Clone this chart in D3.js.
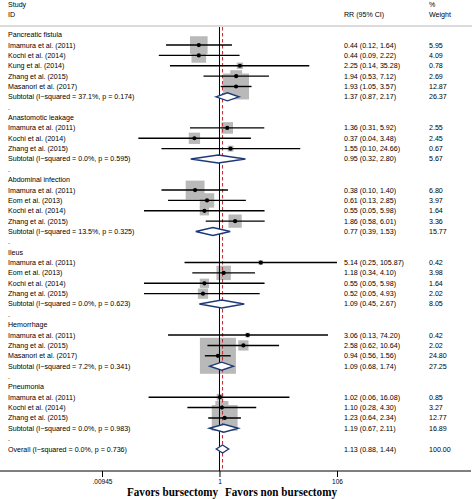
<!DOCTYPE html>
<html>
<head>
<meta charset="utf-8">
<script src="https://cdn.jsdelivr.net/npm/d3@7"></script>
<style>
html,body{margin:0;padding:0;background:#fff;}
svg{display:block;}
</style>
</head>
<body>
<div id="chart"></div>
<script>
// ---------------- data ----------------
const groups = ["Pancreatic fistula", "Anastomotic leakage", "Abdominal infection", "Ileus", "Hemorrhage", "Pneumonia"];
const studyGroup = [0,0,0,0,0, 1,1,1, 2,2,2,2, 3,3,3,3, 4,4,4, 5,5,5];
const studyNames = [
  "Imamura et al. (2011)", "Kochi et al. (2014)", "Kung et al. (2014)", "Zhang et al. (2015)", "Masanori et al. (2017)",
  "Imamura et al. (2011)", "Kochi et al. (2014)", "Zhang et al. (2015)",
  "Imamura et al. (2011)", "Eom et al. (2013)", "Kochi et al. (2014)", "Zhang et al. (2015)",
  "Imamura et al. (2011)", "Eom et al. (2013)", "Kochi et al. (2014)", "Zhang et al. (2015)",
  "Imamura et al. (2011)", "Zhang et al. (2015)", "Masanori et al. (2017)",
  "Imamura et al. (2011)", "Kochi et al. (2014)", "Zhang et al. (2015)"
];
const studyRR = [0.44,0.44,2.25,1.94,1.93, 1.36,0.37,1.55, 0.38,0.61,0.55,1.86, 5.14,1.18,0.55,0.52, 3.06,2.58,0.94, 1.02,1.10,1.23];
const studyLo = [0.12,0.09,0.14,0.53,1.05, 0.31,0.04,0.10, 0.10,0.13,0.05,0.58, 0.25,0.34,0.05,0.05, 0.13,0.62,0.56, 0.06,0.28,0.64];
const studyHi = [1.64,2.22,35.28,7.12,3.57, 5.92,3.48,24.66, 1.40,2.85,5.98,6.01, 105.87,4.10,5.98,4.93, 74.20,10.64,1.56, 16.08,4.30,2.34];
const studyWeight = [5.95,4.09,0.78,2.69,12.87, 2.55,2.45,0.67, 6.80,3.97,1.64,3.36, 0.42,3.98,1.64,2.02, 0.42,2.02,24.80, 0.85,3.27,12.77];

const subRR = [1.37, 0.95, 0.77, 1.09, 1.09, 1.19];
const subLo = [0.87, 0.32, 0.39, 0.45, 0.68, 0.67];
const subHi = [2.17, 2.80, 1.53, 2.67, 1.74, 2.11];
const subWeight = [26.37, 5.67, 15.77, 8.05, 27.25, 16.89];
const subI2 = ["37.1%", "0.0%", "13.5%", "0.0%", "7.2%", "0.0%"];
const subP = ["0.174", "0.595", "0.325", "0.623", "0.341", "0.983"];

const overallRR = 1.13, overallLo = 0.88, overallHi = 1.44, overallWeight = 100.00;
const overallI2 = "0.0%", overallP = "0.736";

const tickValues = [0.00945, 1, 106];
const tickLabels = [".00945", "1", "106"];
const favorLabels = ["Favors bursectomy", "Favors non bursectomy"];

// ---------------- build rows ----------------
const rows = [];
groups.forEach((g, gi) => {
  rows.push({type: "group", label: g});
  studyNames.forEach((n, i) => {
    if (studyGroup[i] === gi) rows.push({type: "study", label: n, rr: studyRR[i], lo: studyLo[i], hi: studyHi[i], w: studyWeight[i]});
  });
  rows.push({type: "sub", label: "Subtotal  (I\u2212squared = " + subI2[gi] + ", p = " + subP[gi] + ")", rr: subRR[gi], lo: subLo[gi], hi: subHi[gi], w: subWeight[gi]});
  rows.push({type: "dot", label: "."});
});
rows.push({type: "sub", label: "Overall  (I\u2212squared = " + overallI2 + ", p = " + overallP + ")", rr: overallRR, lo: overallLo, hi: overallHi, w: overallWeight, overall: true});
rows.forEach((r, i) => r.i = i);

// ---------------- layout ----------------
const W = 472, H = 499;
const svg = d3.select("#chart").append("svg").attr("width", W).attr("height", H);

const x = d3.scaleLog().domain([tickValues[0], tickValues[2]]).range([102, 337]);
const y = d3.scaleLinear().domain([0, rows.length - 1]).range([34.7, 449]);
const boxSide = d3.scaleSqrt().domain([0, 1]).range([0, 7.23]);

const fontBody = "'Liberation Sans', Arial, sans-serif";
const fs = 7.1;
const plotTop = 27, axisY = 471;

// header
svg.append("text").attr("x", 8).attr("y", 7).attr("font-family", fontBody).attr("font-size", fs).text("Study");
svg.append("text").attr("x", 8).attr("y", 17).attr("font-family", fontBody).attr("font-size", fs).text("ID");
svg.append("text").attr("x", 344).attr("y", 17).attr("font-family", fontBody).attr("font-size", fs).text("RR (95% CI)");
svg.append("text").attr("x", 429).attr("y", 7).attr("font-family", fontBody).attr("font-size", fs).text("%");
svg.append("text").attr("x", 429).attr("y", 17).attr("font-family", fontBody).attr("font-size", fs).text("Weight");
svg.append("line").attr("x1", 0).attr("x2", W).attr("y1", 26).attr("y2", 26).attr("stroke", "#cfcfcf").attr("stroke-width", 1.5);

// boxes
const studies = rows.filter(r => r.type === "study");
svg.append("g").selectAll("rect").data(studies).join("rect")
  .attr("x", d => x(d.rr) - boxSide(d.w) / 2)
  .attr("y", d => y(d.i) - boxSide(d.w) / 2)
  .attr("width", d => boxSide(d.w))
  .attr("height", d => boxSide(d.w))
  .attr("fill", "#b9b9b9");

// reference lines
svg.append("line").attr("x1", x(1)).attr("x2", x(1)).attr("y1", plotTop).attr("y2", axisY)
  .attr("stroke", "#000").attr("stroke-width", 1);
svg.append("line").attr("x1", x(overallRR)).attr("x2", x(overallRR)).attr("y1", plotTop).attr("y2", axisY)
  .attr("stroke", "#c0282d").attr("stroke-width", 1).attr("stroke-dasharray", "3.5,2.5");

// CI lines
svg.append("g").selectAll("line").data(studies).join("line")
  .attr("x1", d => x(d.lo)).attr("x2", d => x(d.hi))
  .attr("y1", d => y(d.i)).attr("y2", d => y(d.i))
  .attr("stroke", "#000").attr("stroke-width", 1.4);

// dots
svg.append("g").selectAll("circle").data(studies).join("circle")
  .attr("cx", d => x(d.rr)).attr("cy", d => y(d.i)).attr("r", 2.1).attr("fill", "#000");

// diamonds
const subs = rows.filter(r => r.type === "sub");
const dh = 4;
svg.append("g").selectAll("path").data(subs).join("path")
  .attr("d", d => `M${x(d.lo)},${y(d.i)} L${x(d.rr)},${y(d.i) - dh} L${x(d.hi)},${y(d.i)} L${x(d.rr)},${y(d.i) + dh} Z`)
  .attr("fill", "#fff").attr("stroke", "#1d3a78").attr("stroke-width", 1.4);

// left labels
svg.append("g").selectAll("text").data(rows).join("text")
  .attr("x", 8).attr("y", d => y(d.i) + 2.5)
  .attr("font-family", fontBody).attr("font-size", fs)
  .text(d => d.label);

// RR column
const fmt = d3.format(".2f");
const valued = rows.filter(r => r.type === "study" || r.type === "sub");
svg.append("g").selectAll("text").data(valued).join("text")
  .attr("x", 344).attr("y", d => y(d.i) + 2.5)
  .attr("font-family", fontBody).attr("font-size", fs)
  .text(d => `${fmt(d.rr)} (${fmt(d.lo)}, ${fmt(d.hi)})`);
svg.append("g").selectAll("text").data(valued).join("text")
  .attr("x", 429).attr("y", d => y(d.i) + 2.5)
  .attr("font-family", fontBody).attr("font-size", fs)
  .text(d => fmt(d.w));

// axis
svg.append("line").attr("x1", 0).attr("x2", 471).attr("y1", axisY).attr("y2", axisY).attr("stroke", "#000").attr("stroke-width", 1);
const axis = d3.axisBottom(x).tickValues(tickValues).tickFormat((d, i) => tickLabels[i]).tickSize(6).tickPadding(2);
const ag = svg.append("g").attr("transform", `translate(0,${axisY})`).call(axis);
ag.select(".domain").remove();
ag.selectAll("text").attr("font-family", fontBody).attr("font-size", 6.5).attr("fill", "#000");
ag.selectAll("line").attr("stroke", "#000");

// favors labels
svg.append("text").attr("x", 127).attr("y", 496).attr("font-family", "'Liberation Serif', 'Times New Roman', serif")
  .attr("font-weight", "bold").attr("font-size", 12).attr("textLength", 91).attr("lengthAdjust", "spacingAndGlyphs").text(favorLabels[0]);
svg.append("text").attr("x", 225).attr("y", 496).attr("font-family", "'Liberation Serif', 'Times New Roman', serif")
  .attr("font-weight", "bold").attr("font-size", 12).attr("textLength", 112).attr("lengthAdjust", "spacingAndGlyphs").text(favorLabels[1]);
</script>
</body>
</html>
